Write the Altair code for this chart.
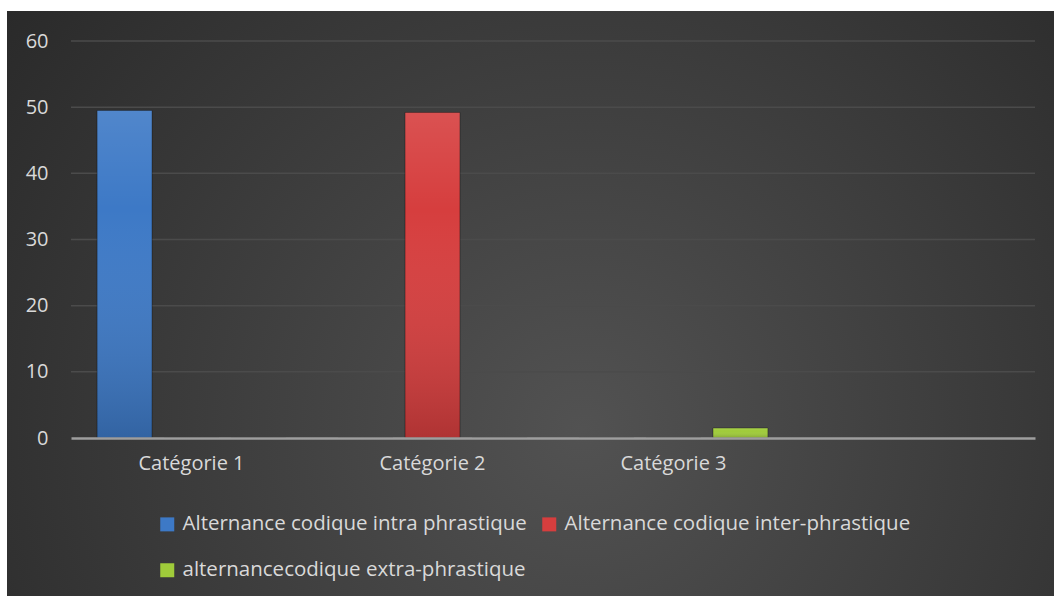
import altair as alt
import pandas as pd

categories = ["Catégorie 1", "Catégorie 2", "Catégorie 3"]
series_names = [
    "Alternance codique intra phrastique",
    "Alternance codique inter-phrastique",
    "alternancecodique extra-phrastique",
]
series_intra = [49.5, 0, 0]
series_inter = [0, 49.2, 0]
series_extra = [0, 0, 1.5]
series_colors = ["#3d79c6", "#d63e3e", "#9fcb3a"]
y_ticks = [0, 10, 20, 30, 40, 50, 60]

rows = []
for name, vals in zip(series_names, [series_intra, series_inter, series_extra]):
    for c, v in zip(categories, vals):
        rows.append({"cat": c, "series": name, "value": v})
df = pd.DataFrame(rows)
grid_df = pd.DataFrame({"y": y_ticks[1:]})

x_domain = categories + [" "]
# legend fills column-major: order so that row 1 = intra, inter ; row 2 = extra
legend_order = [series_names[0], series_names[2], series_names[1]]
legend_colors = [series_colors[0], series_colors[2], series_colors[1]]

W, H = 964, 397
FONT = "Open Sans"
TXT = "#d9d9d9"

bg = alt.Chart(pd.DataFrame({"a": [0]})).mark_rect(
    fill=alt.RadialGradient(
        gradient="radial",
        x1=0.55, y1=0.62, r1=0,
        x2=0.55, y2=0.62, r2=0.78,
        stops=[
            alt.GradientStop(color="#525252", offset=0),
            alt.GradientStop(color="#242424", offset=1),
        ],
    ),
    clip=False,
).encode(
    x=alt.value(-64), x2=alt.value(983), y=alt.value(-30), y2=alt.value(555)
)

grid = alt.Chart(grid_df).mark_rule(color="#4b4b4b", strokeWidth=1.5).encode(
    y=alt.Y("y:Q", scale=alt.Scale(domain=[0, 60])),
    x=alt.value(0), x2=alt.value(W),
)

x_enc = alt.X(
    "cat:N",
    scale=alt.Scale(domain=x_domain, paddingInner=0, paddingOuter=0),
    axis=alt.Axis(
        title=None, labelAngle=0, ticks=False, domain=True,
        domainColor="#9e9e9e", domainWidth=2.5,
        labelColor=TXT, labelFontSize=20, labelFont=FONT,
        labelPadding=15, zindex=1,
    ),
)
xoff_enc = alt.XOffset(
    "series:N",
    scale=alt.Scale(domain=series_names, paddingInner=0.18, paddingOuter=0.39),
)
y_enc = alt.Y(
    "value:Q",
    scale=alt.Scale(domain=[0, 60]),
    axis=alt.Axis(
        title=None, values=y_ticks, grid=False, ticks=False, domain=False,
        labelColor=TXT, labelFontSize=20, labelFont=FONT,
        labelPadding=23, zindex=1,
    ),
)

bars = alt.Chart(df).mark_bar(strokeWidth=1, strokeOpacity=0.35, stroke="#000000").encode(
    x=x_enc,
    xOffset=xoff_enc,
    y=y_enc,
    color=alt.Color(
        "series:N",
        scale=alt.Scale(domain=legend_order, range=legend_colors),
        legend=alt.Legend(
            title=None, orient="none", legendX=86, legendY=473,
            columns=2, columnPadding=12, rowPadding=25,
            symbolType="square", symbolSize=196, symbolStrokeWidth=0,
            labelColor=TXT, labelFontSize=20.5, labelFont=FONT,
            labelOffset=5, labelLimit=450,
        ),
    ),
)

shade = alt.Chart(df).mark_bar(
    fill=alt.LinearGradient(
        gradient="linear", x1=0, y1=0, x2=0, y2=1,
        stops=[
            alt.GradientStop(color="rgba(255,255,255,0.10)", offset=0),
            alt.GradientStop(color="rgba(255,255,255,0.0)", offset=0.3),
            alt.GradientStop(color="rgba(0,0,0,0.18)", offset=1),
        ],
    ),
).encode(x=x_enc, xOffset=xoff_enc, y=y_enc)

chart = alt.layer(bg, grid, bars, shade).properties(
    width=W, height=H,
    autosize=alt.AutoSizeParams(type="none"),
    padding={"left": 71, "top": 41, "right": 19, "bottom": 158},
    background="white",
).configure_view(stroke=None)

chart.save("out.html", embed_options={"renderer": "svg", "actions": False})
